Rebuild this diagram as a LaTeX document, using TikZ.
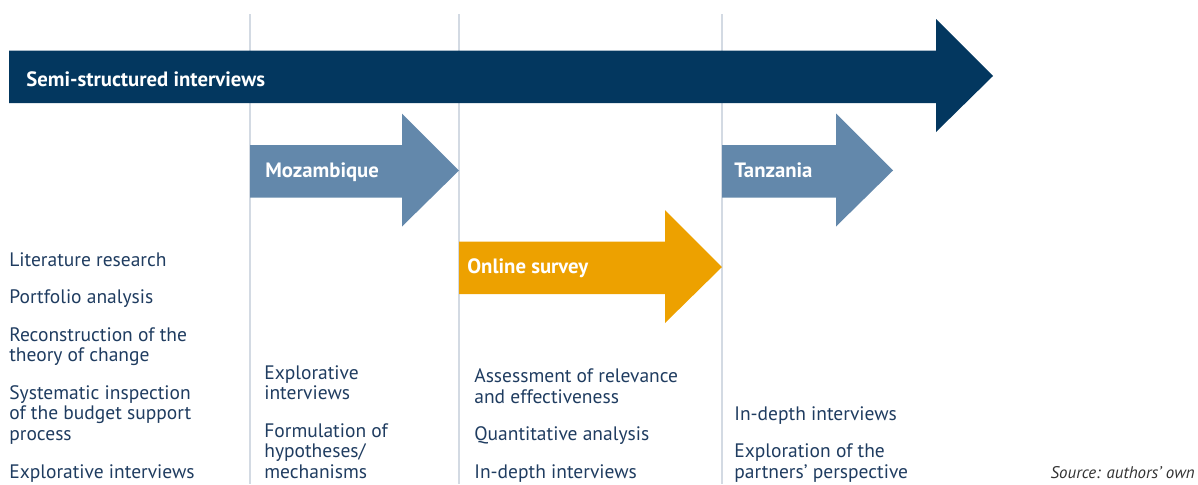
\documentclass[tikz,border=0pt]{standalone}
\usepackage{fontspec}
\setmainfont{PT Sans}
\usepackage{tikz}
\definecolor{navy}{HTML}{03375F}
\definecolor{steel}{HTML}{6388AB}
\definecolor{amber}{HTML}{EDA100}
\definecolor{ink}{HTML}{1F3C60}
\definecolor{rulegrey}{HTML}{D3DAE3}

\begin{document}
\begin{tikzpicture}[x=0.02cm,y=-0.02cm,
    item/.style={anchor=base west, inner sep=0pt, align=left, text=ink,
      font=\fontsize{11.1}{11.62}\selectfont},
    phase/.style={anchor=base west, inner sep=0pt, text=white,
      font=\bfseries\fontsize{11.8}{13}\selectfont}]
  \useasboundingbox (0,0) rectangle (1198,484);
  % column separators
  \foreach \x in {250,459,722}
    \draw[rulegrey, line width=0.85pt] (\x,14) -- (\x,484);
  % arrows: start / tip / centre line / colour
  \foreach \xa/\xb/\yc/\col in {9/993/76/navy, 250/459/170.5/steel,
                                722/893/170.5/steel, 459/722/267/amber}
    \fill[\col] (\xa,{\yc-25.5}) -- ({\xb-57},{\yc-25.5}) -- ({\xb-57},{\yc-57})
      -- (\xb,\yc) -- ({\xb-57},{\yc+56}) -- ({\xb-57},{\yc+27}) -- (\xa,{\yc+27}) -- cycle;
  \node (semi) at (26,86) [phase] {Semi-structured interviews};
  \node (moz) at (265,177) [phase] {Mozambique};
  \node (tan) at (734,177) [phase] {Tanzania};
  \node (online) at (467,273) [phase] {Online survey};
  % desk phase (base = last line)
  \node (lit) at (9,266) [item] {Literature research};
  \node (port) at (9,303.5) [item] {Portfolio analysis};
  \node (toc) at (9,361.5) [item] {Reconstruction of the\\theory of change};
  \node (insp) at (9,440) [item] {Systematic inspection\\of the budget support\\process};
  \node (expl) at (9,478) [item] {Explorative interviews};
  % Mozambique
  \node (mozexpl) at (264,399.5) [item] {Explorative\\interviews};
  \node (hyp) at (264,478) [item] {Formulation of\\hypotheses/\\mechanisms};
  % survey
  \node (assess) at (474,403) [item] {Assessment of relevance\\and effectiveness};
  \node (quant) at (474,440.5) [item] {Quantitative analysis};
  \node (depth) at (474,478) [item] {In-depth interviews};
  % Tanzania
  \node (tandepth) at (734,420) [item] {In-depth interviews};
  \node (partner) at (734,478) [item] {Exploration of the\\partners' perspective};
  \node (source) at (1195,478) [anchor=base east, inner sep=0pt, text=black!80,
    font=\itshape\fontsize{9.6}{11}\selectfont] {Source: authors' own};
\end{tikzpicture}
\end{document}
